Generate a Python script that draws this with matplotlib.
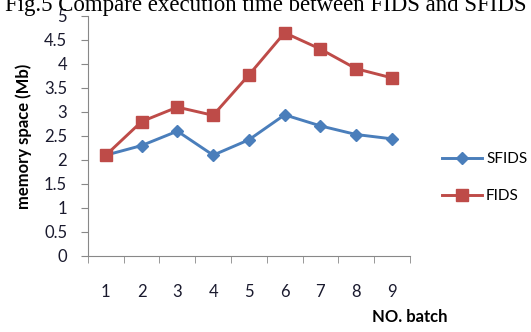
import numpy as np
import matplotlib
matplotlib.use("Agg")
import matplotlib.pyplot as plt

# data
batches = [1, 2, 3, 4, 5, 6, 7, 8, 9]
sfids = [2.1, 2.3, 2.6, 2.1, 2.42, 2.94, 2.71, 2.53, 2.44]
fids = [2.1, 2.8, 3.1, 2.93, 3.77, 4.65, 4.31, 3.9, 3.71]
yticks = [0, 0.5, 1, 1.5, 2, 2.5, 3, 3.5, 4, 4.5, 5]
ytick_labels = ['0', '0.5', '1', '1.5', '2', '2.5', '3', '3.5', '4', '4.5', '5']

fig = plt.figure(figsize=(5.31, 3.32), dpi=100)
ax = fig.add_axes([0.1657, 0.229, 0.606, 0.723])

ax.plot(batches, sfids, '-D', color='#4A7EBB', lw=2.1, ms=6.5, label='SFIDS')
ax.plot(batches, fids, '-s', color='#BE4B48', lw=2.1, ms=8.5, label='FIDS')

ax.set_xlim(0.5, 9.5)
ax.set_ylim(0, 5)
ax.set_yticks(yticks)
ax.set_yticklabels(ytick_labels)
ax.set_xticks(batches)
ax.set_xticks(np.arange(0.5, 10, 1), minor=True)
ax.tick_params(axis='x', which='major', length=0, pad=20, labelsize=12, labelcolor='#1a1a2e')
ax.tick_params(axis='x', which='minor', length=5, color='#888888')
ax.tick_params(axis='y', length=5, color='#888888', labelsize=12, labelcolor='#1a1a2e', pad=10)
for t in ax.get_xticklabels() + ax.get_yticklabels():
    t.set_family('Lato')

for s in ['top', 'right']:
    ax.spines[s].set_visible(False)
for s in ['left', 'bottom']:
    ax.spines[s].set_color('#888888')

ax.set_ylabel('memory space (Mb)', fontsize=12, fontweight='bold', family='Lato', labelpad=9)
fig.text(0.70, 0.03, 'NO. batch', fontsize=12, fontweight='bold', family='Lato', ha='left')

leg = fig.legend(loc='center left', bbox_to_anchor=(0.832, 0.465), frameon=False,
                 prop={'family': 'Lato', 'size': 11}, labelspacing=1.5,
                 handlelength=2.6, handletextpad=0.3, borderpad=0, borderaxespad=0)

fig.text(0.5, 0.967, 'Fig.5 Compare execution time between FIDS and SFIDS',
         ha='center', va='baseline', fontsize=16.5, family='Liberation Serif')

fig.savefig('out.png', dpi=100)
